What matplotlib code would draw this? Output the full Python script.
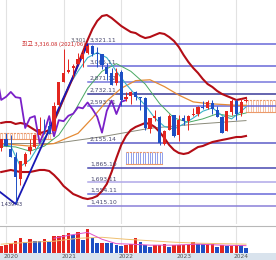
import matplotlib
matplotlib.use('Agg')
import matplotlib.pyplot as plt
import numpy as np

# ---- data: monthly candles, Dec 2019 (-1) .. Mar 2024 (50); Jan 2020 = 0
months = list(range(-1, 51))
opens = [2100, 2201, 2086, 1997, 1737, 1906, 2061, 2108, 2251, 2338, 2356, 2300, 2602,
         2874, 2994, 3036, 3088, 3150, 3211, 3295, 3212, 3203, 3050, 2976, 2860,
         2988, 2676, 2705, 2760, 2687, 2690, 2322, 2451, 2464, 2142, 2307, 2480,
         2249, 2453, 2413, 2480, 2502, 2576, 2573, 2627, 2549, 2468, 2301, 2526,
         2645, 2510, 2654]
highs = [2204, 2277, 2255, 2050, 1948, 2055, 2200, 2267, 2458, 2441, 2418, 2634, 2878,
         3266, 3146, 3087, 3220, 3249, 3316, 3305, 3286, 3209, 3094, 3044, 3043,
         3010, 2760, 2768, 2768, 2698, 2698, 2453, 2546, 2472, 2305, 2503, 2491,
         2485, 2485, 2491, 2571, 2588, 2650, 2668, 2668, 2592, 2473, 2538, 2676,
         2669, 2682, 2680]
lows = [2064, 2119, 1987, 1439, 1664, 1890, 2030, 2100, 2249, 2267, 2267, 2300, 2596,
        2869, 2984, 2930, 3086, 3047, 3208, 3184, 3051, 3029, 2901, 2839, 2837,
        2591, 2650, 2620, 2657, 2546, 2314, 2276, 2414, 2134, 2134, 2307, 2225,
        2180, 2371, 2314, 2476, 2469, 2562, 2560, 2493, 2462, 2273, 2300, 2491,
        2429, 2474, 2640]
closes = [2198, 2119, 1987, 1755, 1948, 2030, 2108, 2249, 2326, 2328, 2267, 2591, 2873,
          2976, 3013, 3061, 3147, 3204, 3297, 3202, 3199, 3069, 2971, 2839, 2977,
          2663, 2699, 2757, 2695, 2686, 2333, 2452, 2473, 2155, 2293, 2473, 2236,
          2425, 2413, 2477, 2501, 2577, 2564, 2633, 2556, 2465, 2278, 2535, 2655,
          2497, 2642, 2660]
volumes = [6.7, 8.3, 10, 12.7, 15, 11.7, 14, 12.7, 12.6, 14, 11, 17.3, 17.4,
           18.3, 20.7, 18.3, 21, 13.3, 24, 15, 10, 10, 9.9, 9.8, 8.3,
           7.3, 7.7, 9.3, 15, 11, 8.3, 6, 7.7, 7.8, 9, 6, 7.7,
           7.8, 7.8, 7.9, 11.3, 9.3, 9.2, 9.3, 9.4, 6, 7.7, 7.3, 7.4,
           8.3, 7.7, 4.7]

# Bollinger bands
bb_upper = [2392, 2403, 2403, 2380, 2392, 2380, 2344, 2309, 2274, 2286, 2309, 2415, 2545,
            2674, 2803, 2933, 3086, 3227, 3368, 3497, 3592, 3650, 3662, 3627, 3580,
            3533, 3497, 3462, 3450, 3415, 3391, 3403, 3427, 3450, 3439, 3403, 3356,
            3286, 3192, 3109, 3039, 2980, 2909, 2850, 2815, 2768, 2733, 2709, 2686,
            2662, 2674, 2686]
bb_lower = [1815, 1827, 1839, 1827, 1815, 1815, 1815, 1827, 1839, 1839, 1827, 1780, 1721,
            1650, 1603, 1556, 1533, 1509, 1497, 1509, 1533, 1592, 1674, 1815, 1980,
            2133, 2239, 2309, 2345, 2368, 2392, 2380, 2345, 2286, 2215, 2133, 2074,
            2039, 2027, 2039, 2074, 2109, 2121, 2145, 2168, 2180, 2192, 2203, 2215,
            2227, 2227, 2239]
chikou_shift = 25

# thinner moving-average style lines (sparse readings: month, level)
cyan_m = [-1, 1, 3, 5, 7, 9, 11, 13, 15, 17, 19, 21, 23, 25, 27, 29, 31, 33, 35, 37, 39, 41, 43, 45, 47, 49, 50]
cyan_v = [2140, 2120, 1880, 1960, 2140, 2290, 2520, 2820, 3000, 3160, 3220, 3160, 3000, 2850,
          2720, 2600, 2450, 2350, 2320, 2380, 2450, 2530, 2570, 2480, 2440, 2530, 2580]
green_m = [-1, 2, 5, 8, 11, 14, 17, 20, 23, 26, 29, 32, 35, 38, 41, 44, 47, 50]
green_v = [2120, 2110, 2060, 2120, 2250, 2500, 2800, 3000, 3090, 3000, 2850, 2620, 2450,
           2400, 2440, 2500, 2470, 2510]
orange_m = [-1, 5, 10, 15, 18, 21, 24, 27, 30, 33, 36, 39, 42, 45, 48, 50]
orange_v = [2150, 2120, 2150, 2270, 2450, 2650, 2800, 2890, 2900, 2820, 2720, 2640, 2620,
            2610, 2600, 2600]
gray_m = [-1, 10, 20, 30, 40, 50]
gray_v = [2150, 2150, 2230, 2330, 2380, 2420]

# ichimoku cloud pieces (start, end, top, bottom)
cloud_segments = [(-1.25, 9.5, 2274, 2203, 'orange'),
                  (25.0, 32.5, 2050, 1909, 'blue'),
                  (50.0, 56.25, 2662, 2521, 'orange')]

# trend line (month, level)
trend_m = [-1.25, 2, 17]
trend_v = [1580, 1439, 3316]

# fibonacci levels
fib_levels = [3321.11, 3065.11, 2871.12, 2732.11, 2593.11, 2155.14, 1865.10, 1693.11, 1554.11, 1415.10]
fib_labels = ['3,321.11', '3,065.11', '2,871.12', '2,732.11', '2,593.11', '2,155.14',
              '1,865.10', '1,693.11', '1,554.11', '1,415.10']
fib_colors = ['#6868d8', '#6868d8', '#7878dc', '#3a3a98', '#6868d8', '#5c5cc8',
              '#4848b0', '#b0a8e8', '#6868d8', '#8a80d8']

# volume MA lines
vma1_m = [10, 13, 17, 20, 23, 26, 30, 35, 40, 45, 50]
vma1_v = [15, 18, 21, 14, 9.5, 9, 8, 8, 9, 8, 7.5]
vma2_m = [-1, 5, 10, 15, 20, 25, 30, 35, 40, 45, 50]
vma2_v = [9, 11, 12, 15, 16, 14, 12.5, 11, 10, 9.5, 9]

years = ['2020', '2021', '2022', '2023', '2024']
year_pos = [0, 12, 24, 36, 48]

UP = '#e3261f'
DOWN = '#1d4fc4'

fig = plt.figure(figsize=(2.76, 2.60), dpi=100)
fig.patch.set_facecolor('white')
XL = (-1.25, 56.25)

ax = fig.add_axes([0, 36 / 260, 1, 224 / 260])
ax.set_xlim(*XL)
ax.set_ylim(1203.4, 3838.6)
for s in ax.spines.values():
    s.set_visible(False)
ax.set_xticks([])
ax.set_yticks([])
for p in year_pos:
    ax.axvline(p, color='#e2e2e2', lw=0.8, zorder=0)

# cloud
for (a, b, top, bot, kind) in cloud_segments:
    hc = '#f2b89a' if kind == 'orange' else '#7f8fe6'
    xs = np.arange(a, b + 1e-9, 0.5)
    ax.vlines(xs, bot, top, color=hc, lw=0.6, zorder=1)
    ax.plot([a, b], [top, top], color='#eb9a6a', lw=0.8, ls=(0, (2, 1)), zorder=1)
    ax.plot([a, b], [bot, bot], color='#eb9a6a', lw=0.8, zorder=1)

# fib lines
for lv, lab, c in zip(fib_levels, fib_labels, fib_colors):
    ax.plot([17, XL[1]], [lv, lv], color=c, lw=1.1, zorder=2)
    ax.text(17.5, lv + 12, lab, fontsize=4.3, color='#46466e', va='bottom', ha='left', zorder=6)

# thin lines
ax.plot(gray_m, gray_v, color='#8a8a7a', lw=0.7, zorder=3)
ax.plot(orange_m, orange_v, color='#e58b35', lw=0.9, zorder=3)
ax.plot(green_m, green_v, color='#49a862', lw=0.7, zorder=3)
ax.plot(cyan_m, cyan_v, color='#3ab2c8', lw=0.8, zorder=3)

# bollinger
ax.plot(months, bb_upper, color='#b30d16', lw=1.5, zorder=4)
ax.plot(months, bb_lower, color='#b30d16', lw=1.5, zorder=4)

# chikou (purple)
ck_x = [m - chikou_shift for m in months if m - chikou_shift >= -2]
ck_y = [c for m, c in zip(months, closes) if m - chikou_shift >= -2]
ax.plot(ck_x, ck_y, color='#7a20c8', lw=1.3, zorder=4)

# trend line
ax.plot(trend_m, trend_v, color='#1818b4', lw=1.3, zorder=5)

# candles
for m, o, h, l, c in zip(months, opens, highs, lows, closes):
    col = UP if c >= o else DOWN
    ax.vlines(m, l, h, color=col, lw=0.7, zorder=6)
    body = max(abs(c - o), 8)
    ax.bar(m, body, bottom=min(o, c), width=0.68, color=col, zorder=7, linewidth=0)

ax.text(16.6, 3316, '최고 3,316.08 (2021/06)', fontsize=4.3, color='#cc2a2a',
        ha='right', va='center', family=['Noto Sans CJK KR', 'DejaVu Sans'], zorder=8)
ax.text(16.8, 3335, '3,301', fontsize=4.0, color='#555566', ha='right', va='bottom', zorder=8)
ax.text(-1.2, 1439, '1,439.43', fontsize=3.6, color='#303060', ha='left', va='center', zorder=8)

# volume panel
axv = fig.add_axes([0, 7 / 260, 1, 27 / 260])
axv.set_xlim(*XL)
axv.set_ylim(0, 27.5)
for s in axv.spines.values():
    s.set_visible(False)
axv.spines['top'].set_visible(True)
axv.spines['top'].set_color('#b8b8b8')
axv.set_xticks([])
axv.set_yticks([])
for p in year_pos:
    axv.axvline(p, color='#e2e2e2', lw=0.8, zorder=0)
vcols = [UP] + [UP if volumes[k] >= volumes[k - 1] else DOWN for k in range(1, len(volumes))]
axv.bar(months, volumes, width=0.74, color=vcols, linewidth=0, zorder=2)
axv.plot(vma2_m, vma2_v, color='#f0c070', lw=0.7, zorder=3)
axv.plot(vma1_m, vma1_v, color='#e050c8', lw=0.7, zorder=3)

# bottom date strip
axd = fig.add_axes([0, 0, 1, 7 / 260])
axd.set_xlim(*XL)
axd.set_ylim(0, 1)
axd.set_facecolor('#d9e3ed')
for s in axd.spines.values():
    s.set_visible(False)
axd.set_xticks([])
axd.set_yticks([])
for p, y in zip(year_pos, years):
    axd.text(p + 1.05, 0.45, y, fontsize=4.2, color='#555555', ha='center', va='center')

fig.savefig('out.png', dpi=100)
